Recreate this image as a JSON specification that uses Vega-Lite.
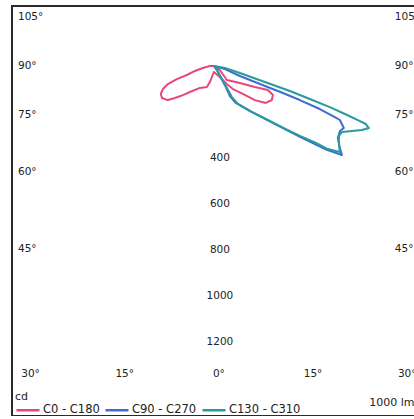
{
  "$schema": "https://vega.github.io/schema/vega-lite/v6.json",
  "width": 410,
  "height": 410,
  "autosize": {"type": "none"},
  "padding": {"left": 12, "top": 6, "right": 0, "bottom": 0},
  "background": "white",
  "config": {
    "view": {"stroke": "#2a2a2a", "strokeWidth": 2},
    "text": {"font": "DejaVu Sans", "color": "#222222"},
    "legend": {"labelFont": "DejaVu Sans", "titleFont": "DejaVu Sans"}
  },
  "layer": [
    {
      "mark": {"type": "rule", "color": "#2a2a2a", "strokeWidth": 1.5},
      "encoding": {
        "y": {"datum": 1387, "type": "quantitative", "scale": {"domain": [-261, 1522], "nice": false, "zero": false, "reverse": true}, "axis": null}
      }
    },
    {
      "data": {
        "values": [
          {"c": "C0 - C180", "o": 1, "g": 0, "cd": 26},
          {"c": "C0 - C180", "o": 2, "g": -14, "cd": 72},
          {"c": "C0 - C180", "o": 3, "g": -18.4, "cd": 96},
          {"c": "C0 - C180", "o": 4, "g": -32.5, "cd": 113},
          {"c": "C0 - C180", "o": 5, "g": -42.7, "cd": 154},
          {"c": "C0 - C180", "o": 6, "g": -46.9, "cd": 185},
          {"c": "C0 - C180", "o": 7, "g": -50.6, "cd": 219},
          {"c": "C0 - C180", "o": 8, "g": -53.5, "cd": 249},
          {"c": "C0 - C180", "o": 9, "g": -58.4, "cd": 265},
          {"c": "C0 - C180", "o": 10, "g": -62.2, "cd": 261},
          {"c": "C0 - C180", "o": 11, "g": -65.7, "cd": 243},
          {"c": "C0 - C180", "o": 12, "g": -68.6, "cd": 215},
          {"c": "C0 - C180", "o": 13, "g": -70.6, "cd": 171},
          {"c": "C0 - C180", "o": 14, "g": -71.6, "cd": 124},
          {"c": "C0 - C180", "o": 15, "g": -75.3, "cd": 85},
          {"c": "C0 - C180", "o": 16, "g": -79.7, "cd": 49},
          {"c": "C0 - C180", "o": 17, "g": -90, "cd": 17},
          {"c": "C0 - C180", "o": 18, "g": 0, "cd": 0},
          {"c": "C0 - C180", "o": 19, "g": 56.3, "cd": 31},
          {"c": "C0 - C180", "o": 20, "g": 42.9, "cd": 83},
          {"c": "C0 - C180", "o": 21, "g": 56.8, "cd": 135},
          {"c": "C0 - C180", "o": 22, "g": 62.9, "cd": 200},
          {"c": "C0 - C180", "o": 23, "g": 66.0, "cd": 257},
          {"c": "C0 - C180", "o": 24, "g": 63.8, "cd": 286},
          {"c": "C0 - C180", "o": 25, "g": 59.6, "cd": 292},
          {"c": "C0 - C180", "o": 26, "g": 54.6, "cd": 277},
          {"c": "C0 - C180", "o": 27, "g": 50.3, "cd": 232},
          {"c": "C0 - C180", "o": 28, "g": 46.0, "cd": 175},
          {"c": "C0 - C180", "o": 29, "g": 39.6, "cd": 130},
          {"c": "C0 - C180", "o": 30, "g": 36.4, "cd": 103},
          {"c": "C0 - C180", "o": 31, "g": 28.6, "cd": 54},
          {"c": "C0 - C180", "o": 32, "g": 0, "cd": 26},

          {"c": "C90 - C270", "o": 1, "g": 0, "cd": 0},
          {"c": "C90 - C270", "o": 2, "g": 36.9, "cd": 22},
          {"c": "C90 - C270", "o": 3, "g": 31.0, "cd": 51},
          {"c": "C90 - C270", "o": 4, "g": 29.7, "cd": 105},
          {"c": "C90 - C270", "o": 5, "g": 28.1, "cd": 148},
          {"c": "C90 - C270", "o": 6, "g": 30.7, "cd": 187},
          {"c": "C90 - C270", "o": 7, "g": 38.7, "cd": 251},
          {"c": "C90 - C270", "o": 8, "g": 44.5, "cd": 329},
          {"c": "C90 - C270", "o": 9, "g": 48.4, "cd": 413},
          {"c": "C90 - C270", "o": 10, "g": 50.5, "cd": 485},
          {"c": "C90 - C270", "o": 11, "g": 52.3, "cd": 555},
          {"c": "C90 - C270", "o": 12, "g": 53.4, "cd": 612},
          {"c": "C90 - C270", "o": 13, "g": 55.2, "cd": 678},
          {"c": "C90 - C270", "o": 14, "g": 56.9, "cd": 654},
          {"c": "C90 - C270", "o": 15, "g": 59.9, "cd": 623},
          {"c": "C90 - C270", "o": 16, "g": 62.7, "cd": 617},
          {"c": "C90 - C270", "o": 17, "g": 64.5, "cd": 626},
          {"c": "C90 - C270", "o": 18, "g": 66.8, "cd": 596},
          {"c": "C90 - C270", "o": 19, "g": 67.1, "cd": 571},
          {"c": "C90 - C270", "o": 20, "g": 67.9, "cd": 497},
          {"c": "C90 - C270", "o": 21, "g": 68.4, "cd": 402},
          {"c": "C90 - C270", "o": 22, "g": 68.6, "cd": 322},
          {"c": "C90 - C270", "o": 23, "g": 68.6, "cd": 215},
          {"c": "C90 - C270", "o": 24, "g": 69.0, "cd": 121},
          {"c": "C90 - C270", "o": 25, "g": 74.7, "cd": 50},
          {"c": "C90 - C270", "o": 26, "g": 90, "cd": 0},

          {"c": "C130 - C310", "o": 1, "g": 0, "cd": 0},
          {"c": "C130 - C310", "o": 2, "g": 36.9, "cd": 22},
          {"c": "C130 - C310", "o": 3, "g": 32.5, "cd": 57},
          {"c": "C130 - C310", "o": 4, "g": 30.6, "cd": 111},
          {"c": "C130 - C310", "o": 5, "g": 30.1, "cd": 156},
          {"c": "C130 - C310", "o": 6, "g": 32.3, "cd": 195},
          {"c": "C130 - C310", "o": 7, "g": 39.6, "cd": 259},
          {"c": "C130 - C310", "o": 8, "g": 45.0, "cd": 332},
          {"c": "C130 - C310", "o": 9, "g": 48.8, "cd": 416},
          {"c": "C130 - C310", "o": 10, "g": 50.9, "cd": 482},
          {"c": "C130 - C310", "o": 11, "g": 53.0, "cd": 556},
          {"c": "C130 - C310", "o": 12, "g": 53.9, "cd": 613},
          {"c": "C130 - C310", "o": 13, "g": 55.7, "cd": 663},
          {"c": "C130 - C310", "o": 14, "g": 58.4, "cd": 638},
          {"c": "C130 - C310", "o": 15, "g": 60.8, "cd": 623},
          {"c": "C130 - C310", "o": 16, "g": 62.7, "cd": 626},
          {"c": "C130 - C310", "o": 17, "g": 64.8, "cd": 663},
          {"c": "C130 - C310", "o": 18, "g": 66.6, "cd": 701},
          {"c": "C130 - C310", "o": 19, "g": 68.2, "cd": 726},
          {"c": "C130 - C310", "o": 20, "g": 69.1, "cd": 707},
          {"c": "C130 - C310", "o": 21, "g": 69.4, "cd": 669},
          {"c": "C130 - C310", "o": 22, "g": 69.9, "cd": 607},
          {"c": "C130 - C310", "o": 23, "g": 70.5, "cd": 535},
          {"c": "C130 - C310", "o": 24, "g": 71.0, "cd": 441},
          {"c": "C130 - C310", "o": 25, "g": 71.8, "cd": 348},
          {"c": "C130 - C310", "o": 26, "g": 72.6, "cd": 232},
          {"c": "C130 - C310", "o": 27, "g": 74.9, "cd": 117},
          {"c": "C130 - C310", "o": 28, "g": 79.7, "cd": 49},
          {"c": "C130 - C310", "o": 29, "g": 90, "cd": 0}
        ]
      },
      "transform": [
        {"calculate": "datum.cd * sin(datum.g * PI / 180)", "as": "px"},
        {"calculate": "datum.cd * cos(datum.g * PI / 180)", "as": "py"}
      ],
      "mark": {"type": "line", "strokeWidth": 2, "strokeJoin": "round", "strokeCap": "round"},
      "encoding": {
        "x": {"field": "px", "type": "quantitative", "scale": {"domain": [-878, 905], "nice": false, "zero": false}, "axis": null},
        "y": {"field": "py", "type": "quantitative", "scale": {"domain": [-261, 1522], "nice": false, "zero": false, "reverse": true}, "axis": null},
        "order": {"field": "o", "type": "quantitative"},
        "color": {
          "field": "c",
          "type": "nominal",
          "scale": {"domain": ["C0 - C180", "C90 - C270", "C130 - C310"], "range": ["#e9467f", "#3c6ecf", "#2a9a9a"]},
          "legend": {
            "title": "cd",
            "orient": "none",
            "legendX": 3,
            "legendY": 385,
            "direction": "horizontal",
            "titleOrient": "top",
            "titleAnchor": "start",
            "titleFontSize": 11,
            "titleFontWeight": "normal",
            "titleColor": "#222222",
            "titlePadding": -5,
            "symbolType": "stroke",
            "symbolSize": 529,
            "symbolStrokeWidth": 2.5,
            "labelFontSize": 11.5,
            "labelColor": "#222222",
            "labelOffset": 2,
            "columnPadding": 0,
            "padding": 0
          }
        }
      }
    },
    {
      "data": {"values": [{"v": 400}, {"v": 600}, {"v": 800}, {"v": 1000}, {"v": 1200}]},
      "mark": {"type": "text", "fontSize": 10.5, "align": "center", "baseline": "middle", "dx": 6},
      "encoding": {
        "x": {"datum": 0, "type": "quantitative", "scale": {"domain": [-878, 905], "nice": false, "zero": false}, "axis": null},
        "y": {"field": "v", "type": "quantitative", "scale": {"domain": [-261, 1522], "nice": false, "zero": false, "reverse": true}, "axis": null},
        "text": {"field": "v", "type": "nominal"}
      }
    },
    {
      "data": {
        "values": [
          {"t": "105°", "a": 105, "s": -1},
          {"t": "90°", "a": 90, "s": -1},
          {"t": "75°", "a": 75, "s": -1},
          {"t": "60°", "a": 60, "s": -1},
          {"t": "45°", "a": 45, "s": -1},
          {"t": "105°", "a": 105, "s": 1},
          {"t": "90°", "a": 90, "s": 1},
          {"t": "75°", "a": 75, "s": 1},
          {"t": "60°", "a": 60, "s": 1},
          {"t": "45°", "a": 45, "s": 1}
        ]
      },
      "transform": [
        {"calculate": "796 * cos(datum.a * PI / 180) / sin(datum.a * PI / 180)", "as": "ly"},
        {"calculate": "datum.s < 0 ? -852 : 787", "as": "lx"}
      ],
      "mark": {"type": "text", "fontSize": 10.5, "align": "left", "baseline": "middle"},
      "encoding": {
        "x": {"field": "lx", "type": "quantitative", "scale": {"domain": [-878, 905], "nice": false, "zero": false}, "axis": null},
        "y": {"field": "ly", "type": "quantitative", "scale": {"domain": [-261, 1522], "nice": false, "zero": false, "reverse": true}, "axis": null},
        "text": {"field": "t", "type": "nominal"}
      }
    },
    {
      "data": {
        "values": [
          {"t": "30°", "a": -30},
          {"t": "15°", "a": -15},
          {"t": "0°", "a": 0},
          {"t": "15°", "a": 15},
          {"t": "30°", "a": 30}
        ]
      },
      "transform": [
        {"calculate": "21.7 + 27.3 * datum.a", "as": "bx"}
      ],
      "mark": {"type": "text", "fontSize": 10.5, "align": "center", "baseline": "middle"},
      "encoding": {
        "x": {"field": "bx", "type": "quantitative", "scale": {"domain": [-878, 905], "nice": false, "zero": false}, "axis": null},
        "y": {"datum": 1340, "type": "quantitative", "scale": {"domain": [-261, 1522], "nice": false, "zero": false, "reverse": true}, "axis": null},
        "text": {"field": "t", "type": "nominal"}
      }
    },
    {
      "data": {"values": [{"t": "1000 lm"}]},
      "mark": {"type": "text", "fontSize": 11, "align": "right", "baseline": "middle"},
      "encoding": {
        "x": {"datum": 872, "type": "quantitative", "scale": {"domain": [-878, 905], "nice": false, "zero": false}, "axis": null},
        "y": {"datum": 1465, "type": "quantitative", "scale": {"domain": [-261, 1522], "nice": false, "zero": false, "reverse": true}, "axis": null},
        "text": {"field": "t", "type": "nominal"}
      }
    }
  ]
}
